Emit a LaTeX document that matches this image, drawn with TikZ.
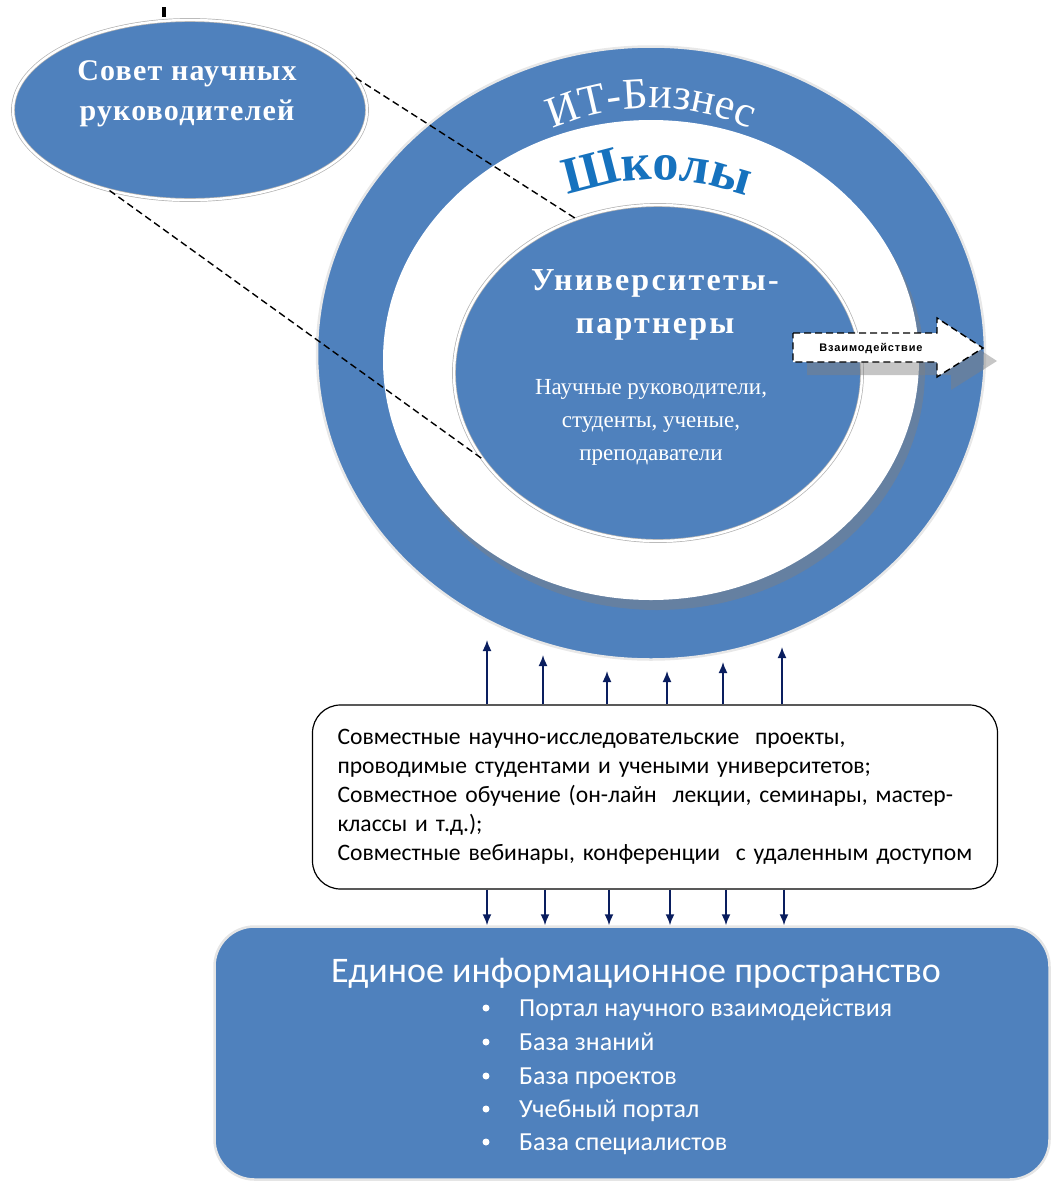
\documentclass[tikz,border=0pt]{standalone}
\usepackage{fontspec}
\setmainfont{Liberation Serif}
\newfontfamily\calibrifont{Carlito}
\newfontfamily\arialfont{Liberation Sans}
\usetikzlibrary{positioning,shapes.geometric,arrows.meta,decorations.text}
\definecolor{officeblue}{RGB}{79,129,189}
\definecolor{schoolblue}{RGB}{22,114,190}
\definecolor{navyarrow}{RGB}{10,30,95}

\begin{document}
\begin{tikzpicture}[x=1pt,y=-1pt]
	\tikzstyle{every node}=[inner sep=0pt]
	\tikzstyle{oval}=[ellipse,fill=officeblue,draw=gray!60,double=white,double distance=2.4pt,line width=.7pt]
	\tikzstyle{ring}=[ellipse,fill=officeblue,draw=gray!18,line width=2.5pt]
	\tikzstyle{hole}=[ellipse,fill=white]
	\tikzstyle{title}=[text=white,align=center]
	\tikzstyle{people}=[text=white,align=center,font=\fontsize{23}{33}\selectfont]
	\tikzstyle{jointbox}=[draw,line width=1.2pt,rounded corners=28pt,minimum width=685pt,minimum height=184pt]
	\tikzstyle{jointtext}=[align=left,text width=635pt,font=\calibrifont\fontsize{23.6}{29}\selectfont]
	\tikzstyle{panel}=[fill=officeblue,draw=gray!20,line width=2.5pt,rounded corners=40pt,minimum width=835pt,minimum height=253pt]
	\tikzstyle{item}=[text=white,anchor=base west,font=\calibrifont\fontsize{26}{26}\selectfont]
	\tikzstyle{link}=[navyarrow,line width=1.6pt,-{Latex[length=11pt,width=9pt]}]
	\tikzstyle{guide}=[line width=1.4pt,dash pattern=on 7pt off 4pt]
	%\tikzstyle{shadow}=[gray,opacity=.45]

	\useasboundingbox (0,0) rectangle (1053,1184);
	\fill (162,7) rectangle (166,17);

	% rings
	\node[ring,minimum width=668pt,minimum height=613pt] (itbiz) at (651,353) {};
	\fill[gray,opacity=.45] (657,370) ellipse [x radius=268,y radius=240];
	\node[hole,minimum width=536pt,minimum height=480pt] (schools) at (651,360) {};
	\path[decorate,decoration={text along path,text align=center,
		text={|\color{white}\fontsize{44}{44}\selectfont|ИТ-Бизнес}}]
		(651,353) ++(215:245) arc[start angle=215,end angle=325,radius=245];
	\path[decorate,decoration={text along path,text align=center,
		text={|\color{schoolblue}\bfseries\fontsize{52}{52}\selectfont|Школы}}]
		(657,430) ++(240:250) arc[start angle=240,end angle=300,radius=250];

	\node[oval,minimum width=408pt,minimum height=336pt] (univ) at (658,373) {};
	\node[title,font=\bfseries\fontsize{32}{43}\selectfont\addfontfeatures{LetterSpace=7}] (univname) at (655,305) {Университеты-\\партнеры};
	\node[people] (univpeople) at (651,422) {Научные руководители,\\студенты, ученые,\\преподаватели};

	% interaction arrow
	\fill[gray,opacity=.45,shift={(14,13)}] (793,333) -- (937,333) -- (937,318) -- (983,348) -- (937,377) -- (937,362) -- (793,362) -- cycle;
	\draw[guide,fill=white] (793,333) -- (937,333) -- (937,318) -- (983,348) -- (937,377) -- (937,362) -- (793,362) -- cycle;
	\node[font=\arialfont\bfseries\fontsize{11}{11}\selectfont\addfontfeatures{LetterSpace=8}] (interact) at (871,348) {Взаимодействие};

	% council
	\node[oval,minimum width=354pt,minimum height=180pt] (sovet) at (190,110) {};
	\node[title,font=\bfseries\fontsize{30}{40}\selectfont\addfontfeatures{LetterSpace=4}] (sovettext) at (187,94) {Совет научных\\руководителей};
	\draw[guide] (sovet.11) -- (univ.118);
	\draw[guide] (sovet.225) -- (univ.206);

	% joint activities
	\node[jointbox,jointtext] (joint) at (655,797) {Совместные научно-исследовательские\ \ проекты,\\проводимые студентами и учеными университетов;\\Совместное обучение (он-лайн\ \ лекции, семинары, мастер-\\классы и т.д.);\\Совместные вебинары, конференции\ \ с удаленным доступом};

	\node[panel] (space) at (632,1053) {};
	\node[text=white,font=\calibrifont\fontsize{36}{36}\selectfont] (spacetitle) at (636,973) {Единое информационное пространство};
	\foreach \y/\t [count=\i] in {1008/Портал научного взаимодействия,1042/База знаний,1076/База проектов,1109/Учебный портал,1142/База специалистов}{
		\fill[white] (486,\y) circle (3.5);
		\node[item] (item\i) at (519,\y+8) {\t};
	}

	\foreach \x/\t [count=\i] in {487/640,543/655,607/671,667/671,723/662,782/647}{
		\coordinate (tip\i) at (\x,\t);
		\draw[link] (\x,0 |- joint.north) -- (tip\i);
	}
	\foreach \x in {487,545,609,670,726,784}
		\draw[link] (\x,0 |- joint.south) -- (\x,0 |- space.north);
\end{tikzpicture}
\end{document}
